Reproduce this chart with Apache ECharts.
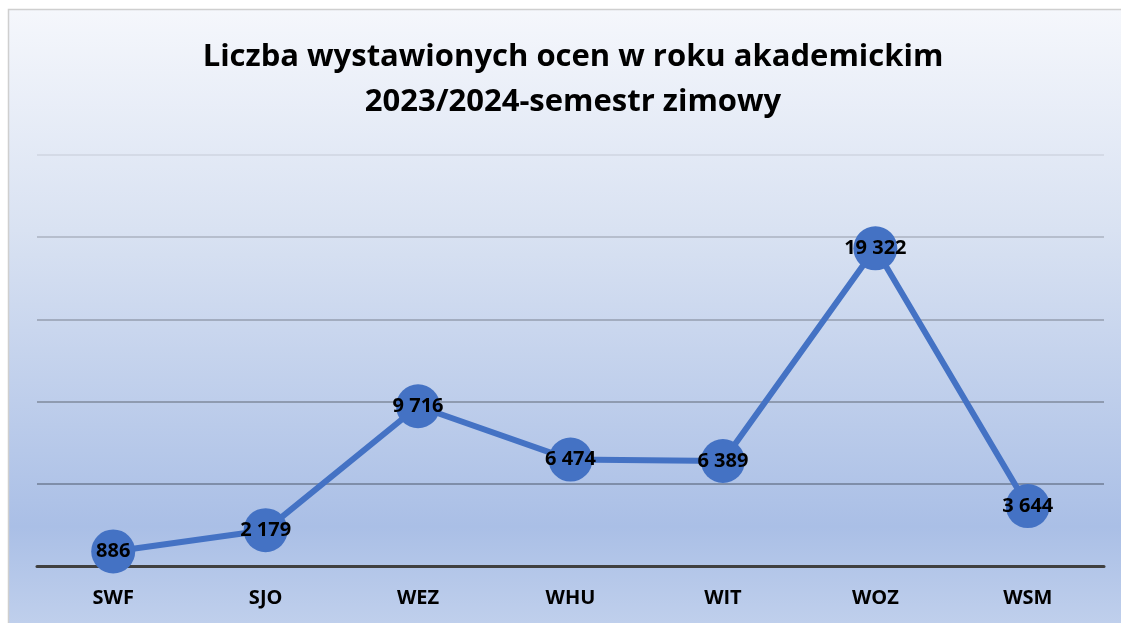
<!DOCTYPE html>
<html>
<head>
<meta charset="utf-8">
<script src="https://cdn.jsdelivr.net/npm/echarts@6/dist/echarts.min.js"></script>
<style>
html,body{margin:0;padding:0;background:#fff;}
#c{width:1121px;height:623px;}
</style>
</head>
<body>
<div id="c"></div>
<script>
const categories = ['SWF','SJO','WEZ','WHU','WIT','WOZ','WSM'];
const values = [886, 2179, 9716, 6474, 6389, 19322, 3644];
const titleLines = ['Liczba wystawionych ocen w roku akademickim', '2023/2024-semestr zimowy'];

function fmt(v){ return String(v).replace(/\B(?=(\d{3})+(?!\d))/g, ' '); }

const chart = echarts.init(document.getElementById('c'), null, {renderer:'canvas'});
const FONT = '"Open Sans", sans-serif';
chart.setOption({
  animation:false,
  backgroundColor:'#ffffff',
  graphic:[{
    type:'rect', z:-10, silent:true,
    shape:{x:8.5, y:9.5, width:1125, height:630},
    style:{
      fill:{type:'linear', x:0, y:0, x2:0, y2:1, colorStops:[
        {offset:0, color:'#f5f7fc'},
        {offset:0.35, color:'#d9e2f2'},
        {offset:0.82, color:'#aabfe6'},
        {offset:1, color:'#c3d2ed'}
      ]},
      stroke:'#cfcfcf', lineWidth:1.5
    }
  },{
    type:'text', z:10, silent:true,
    x:573, y:35,
    style:{
      text: titleLines.join('\n'),
      align:'center', verticalAlign:'top',
      font:'bold 31px "Open Sans", sans-serif', lineHeight:45, fill:'#000'
    }
  }],
  grid:{left:37, right:17, top:155, bottom:57, containLabel:false},
  xAxis:{
    type:'category', data:categories, boundaryGap:true,
    axisLine:{lineStyle:{color:'#404040', width:3}},
    axisTick:{show:false},
    axisLabel:{fontFamily:FONT, fontWeight:'bold', fontSize:20, color:'#000', margin:22}
  },
  yAxis:{
    type:'value', min:0, max:25000, interval:5000,
    axisLabel:{show:false}, axisLine:{show:false}, axisTick:{show:false},
    splitLine:{lineStyle:{width:1.5, color:['#404040','#6f7d94','#7f8a9d','#949eaf','#abb2c0','#cfd5e0']}}
  },
  series:[{
    type:'line', data:values,
    symbol:'circle', symbolSize:44,
    itemStyle:{color:'#4472c4'},
    lineStyle:{color:'#4472c4', width:6},
    z:5,
    label:{
      show:true, position:'inside',
      formatter:p=>fmt(p.value),
      fontFamily:FONT, fontWeight:'bold', fontSize:20, color:'#000'
    }
  }]
});
</script>
</body>
</html>
